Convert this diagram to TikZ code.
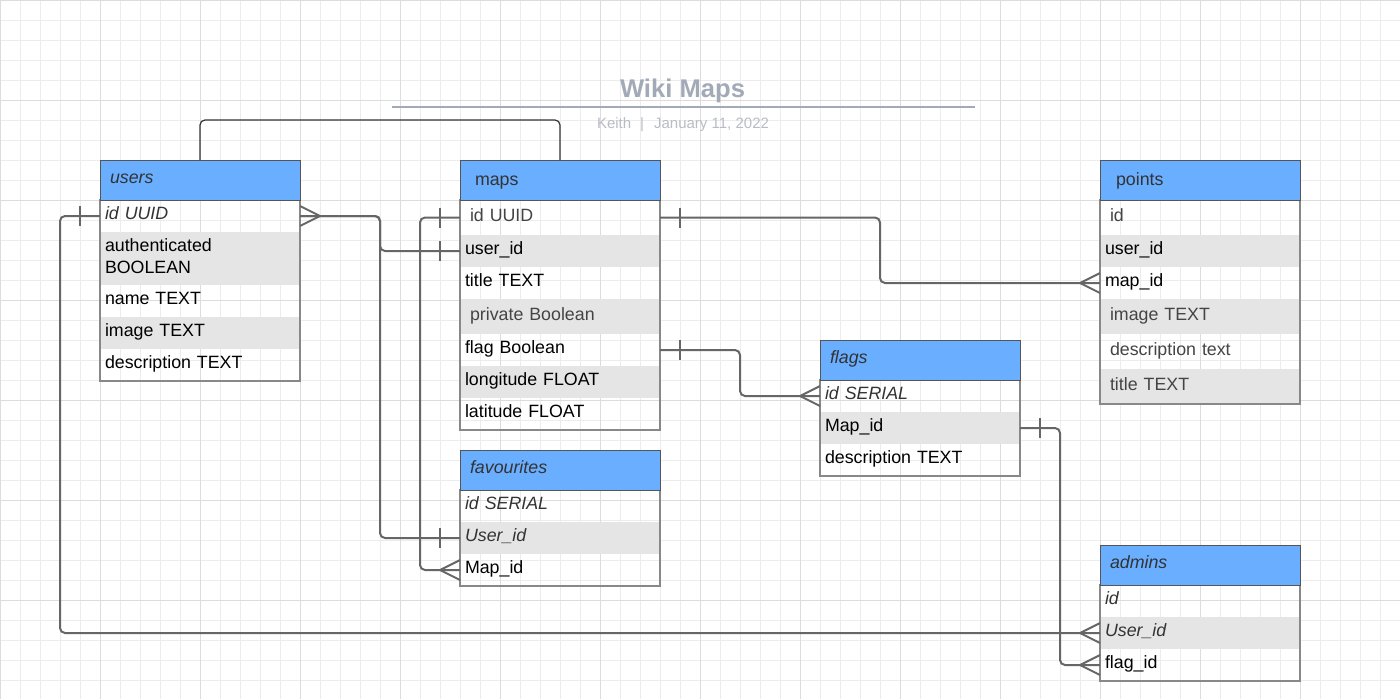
\documentclass[tikz,border=0pt]{standalone}
\usepackage{fontspec}
\setmainfont{Liberation Sans}
\definecolor{hblue}{RGB}{106,174,255}
\definecolor{rowgray}{RGB}{229,229,229}
\definecolor{tblline}{RGB}{136,136,136}
\definecolor{hdrline}{RGB}{85,85,85}
\definecolor{connc}{RGB}{102,102,102}
\definecolor{thinc}{RGB}{51,51,51}
\definecolor{gridminor}{RGB}{236,236,236}
\definecolor{gridmajor}{RGB}{220,220,220}
\definecolor{titlec}{RGB}{163,170,183}
\definecolor{subc}{RGB}{184,188,196}
\definecolor{txtgray}{RGB}{68,68,68}
\definecolor{txtdark}{RGB}{51,51,51}
\newcommand\crowW[1]{\draw[crow] ([yshift=10pt]#1) -- ([xshift=-20pt]#1) -- ([yshift=-10pt]#1);}
\newcommand\crowE[1]{\draw[crow] ([yshift=10pt]#1) -- ([xshift=20pt]#1) -- ([yshift=-10pt]#1);}
\newcommand\barW[1]{\draw[crow] ([xshift=-20pt,yshift=10pt]#1) -- ([xshift=-20pt,yshift=-10pt]#1);}
\newcommand\barE[1]{\draw[crow] ([xshift=20pt,yshift=10pt]#1) -- ([xshift=20pt,yshift=-10pt]#1);}
\tikzset{
  cell/.style={anchor=north west, inner ysep=0pt, outer sep=0pt, minimum width=200pt,
    text height=12.7pt, text depth=5pt, font=\fontsize{17.8}{22}\selectfont, align=left, text=black},
  ind5/.style={inner xsep=5pt, text width=190pt},
  ind10/.style={inner xsep=10pt, text width=180pt},
  r32/.style={minimum height=32pt},
  r35/.style={minimum height=35pt},
  grayrow/.style={fill=rowgray},
  gtxt/.style={text=txtgray},
  dtxt/.style={text=txtdark},
  hdr/.style={cell, fill=hblue, draw=hdrline, line width=1pt, minimum height=40pt, text=txtdark,
    inner xsep=10pt, text width=180pt},
  tbl/.style={draw=tblline, line width=1.5pt},
  conn/.style={draw=connc, line width=2pt, rounded corners=5pt},
  thinconn/.style={draw=thinc, line width=1.2pt, rounded corners=5pt},
  crow/.style={draw=connc, line width=2pt},
}
\begin{document}
\begin{tikzpicture}[x=1pt,y=-1pt]
\useasboundingbox (0,0) rectangle (1400,699);
\fill[white] (0,0) rectangle (1400,699);
\draw[gridminor, line width=1pt, step=20pt] (0,0) grid (1400,699);
\draw[gridmajor, line width=1pt, step=100pt] (0,0) grid (1400,699);

% title
\node[font=\bfseries\fontsize{25.6}{30}\selectfont, text=titlec, anchor=base] (title) at (682.5,97.5) {Wiki Maps};
\coordinate (tl1) at (392,107);
\coordinate (tl2) at (975,107);
\draw[titlec, line width=2pt] (tl1) -- (tl2);
\node[font=\fontsize{15}{17}\selectfont, text=subc, anchor=base] (subtitle) at (683,128) {Keith\hspace{9pt}|\hspace{10pt}January 11, 2022};

% ---------- users
\node[cell, ind5, r32] (users-id) at (100,200) {\color{txtdark}\itshape id UUID};
\node[cell, ind5, grayrow, minimum height=53pt, text depth=27pt] (users-auth) at (100,232) {authenticated\\BOOLEAN};
\node[cell, ind5, r32] (users-name) at (100,285) {name TEXT};
\node[cell, ind5, r32, grayrow] (users-image) at (100,317) {image TEXT};
\node[cell, ind5, r32] (users-desc) at (100,349) {description TEXT};
\draw[tbl] (100,200) rectangle (users-desc.south east);
\node[hdr] (users) at (100,160) {\itshape users};

% ---------- maps
\node[cell, ind10, r35, gtxt] (maps-id) at (460,200) {id UUID};
\node[cell, ind5, r32, grayrow] (maps-userid) at (460,235) {user\_id};
\node[cell, ind5, r32] (maps-title) at (460,267) {title TEXT};
\node[cell, ind10, r35, grayrow, gtxt] (maps-private) at (460,299) {private Boolean};
\node[cell, ind5, r32] (maps-flag) at (460,334) {flag Boolean};
\node[cell, ind5, r32, grayrow] (maps-long) at (460,366) {longitude FLOAT};
\node[cell, ind5, r32] (maps-lat) at (460,398) {latitude FLOAT};
\draw[tbl] (460,200) rectangle (maps-lat.south east);
\node[hdr, inner xsep=15pt, text width=170pt, text depth=1pt] (maps) at (460,160) {maps};

% ---------- points
\node[cell, ind10, r35, gtxt] (points-id) at (1100,200) {id};
\node[cell, ind5, r32, grayrow] (points-userid) at (1100,235) {user\_id};
\node[cell, ind5, r32] (points-mapid) at (1100,267) {map\_id};
\node[cell, ind10, r35, grayrow, gtxt] (points-image) at (1100,299) {image TEXT};
\node[cell, ind10, r35, gtxt] (points-desc) at (1100,334) {description text};
\node[cell, ind10, r35, grayrow, gtxt] (points-title) at (1100,369) {title TEXT};
\draw[tbl] (1100,200) rectangle (points-title.south east);
\node[hdr, inner xsep=16pt, text width=168pt, text depth=1pt] (points) at (1100,160) {points};

% ---------- flags
\node[cell, ind5, r32, dtxt] (flags-id) at (820,380) {\itshape id SERIAL};
\node[cell, ind5, r32, grayrow] (flags-mapid) at (820,412) {Map\_id};
\node[cell, ind5, r32] (flags-desc) at (820,444) {description TEXT};
\draw[tbl] (820,380) rectangle (flags-desc.south east);
\node[hdr] (flags) at (820,340) {\itshape flags};

% ---------- favourites
\node[cell, ind5, r32, dtxt] (fav-id) at (460,490) {\itshape id SERIAL};
\node[cell, ind5, r32, grayrow, dtxt] (fav-userid) at (460,522) {\itshape User\_id};
\node[cell, ind5, r32] (fav-mapid) at (460,554) {Map\_id};
\draw[tbl] (460,490) rectangle (fav-mapid.south east);
\node[hdr] (fav) at (460,450) {\itshape favourites};

% ---------- admins
\node[cell, ind5, r32, dtxt] (admins-id) at (1100,585) {\itshape id};
\node[cell, ind5, r32, grayrow, dtxt] (admins-userid) at (1100,617) {\itshape User\_id};
\node[cell, ind5, r32] (admins-flagid) at (1100,649) {flag\_id};
\draw[tbl] (1100,585) rectangle (admins-flagid.south east);
\node[hdr] (admins) at (1100,545) {\itshape admins};

% ---------- connectors
\draw[thinconn] (users.north) -- ++(0,-40) -| (maps.north);
\draw[conn] (users-id.east) -- ++(80,0) |- (maps-userid.west);
\draw[conn] (users-id.east) -- ++(80,0) |- (fav-userid.west);
\draw[conn] (maps-id.west) -- ++(-40,0) |- (fav-mapid.west);
\draw[conn] (maps-id.east) -- ++(220,0) |- (points-mapid.west);
\draw[conn] (maps-flag.east) -- ++(80,0) |- (flags-id.west);
\draw[conn] (flags-mapid.east) -- ++(40,0) |- (admins-flagid.west);
\draw[conn] (users-id.west) -- ++(-40,0) |- (admins-userid.west);

% ---------- ends
\crowE{users-id.east}
\barW{maps-userid.west}
\barW{fav-userid.west}
\barW{maps-id.west}
\crowW{fav-mapid.west}
\barE{maps-id.east}
\crowW{points-mapid.west}
\barE{maps-flag.east}
\crowW{flags-id.west}
\barE{flags-mapid.east}
\crowW{admins-flagid.west}
\barW{users-id.west}
\crowW{admins-userid.west}
\end{tikzpicture}
\end{document}
